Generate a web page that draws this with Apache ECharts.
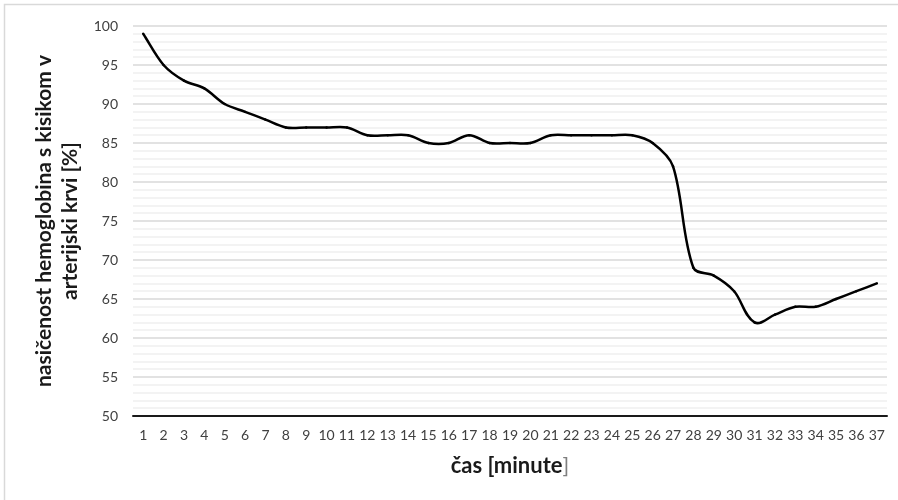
<!DOCTYPE html>
<html>
<head>
<meta charset="utf-8">
<script src="https://cdn.jsdelivr.net/npm/echarts@6/dist/echarts.min.js"></script>
<style>
  html, body { margin: 0; padding: 0; background: #fff; }
  #chart { width: 898px; height: 500px; }
</style>
</head>
<body>
<div id="chart"></div>
<script>
// Minutes of measurement
const minutes = ['1','2','3','4','5','6','7','8','9','10','11','12','13','14','15','16','17','18','19',
  '20','21','22','23','24','25','26','27','28','29','30','31','32','33','34','35','36','37'];

// Arterial oxygen saturation of haemoglobin, %
const saturation = [99, 95, 93, 92, 90, 89, 88, 87, 87, 87, 87, 86, 86, 86, 85, 85, 86, 85, 85,
  85, 86, 86, 86, 86, 86, 85, 82, 69, 68, 66, 62, 63, 64, 64, 65, 66, 67];

const yTitle = 'nasičenost hemoglobina s kisikom v\narterijski krvi [%]';
const xTitleMain = 'čas [minute';
const xTitleEnd = ']';

const FONT = 'Lato, "Open Sans", sans-serif';

const chart = echarts.init(document.getElementById('chart'), null, { renderer: 'canvas' });

// Handle of a smooth curve at point k: tangent along the neighbour chord,
// arm length proportional to the adjacent segment length.
const ARM = 0.32;
function handle(pPrev, p, pNext, seg, sign) {
  const dx = pNext[0] - pPrev[0], dy = pNext[1] - pPrev[1];
  const len = Math.hypot(dx, dy) || 1;
  const sl = Math.hypot(seg[0] - p[0], seg[1] - p[1]) * ARM;
  return [p[0] + sign * dx / len * sl, p[1] + sign * dy / len * sl];
}

// Each item draws the curve piece from its point to the next one as a
// cubic Bezier, positioned through the axes.
function renderSegment(params, api) {
  const i = api.value(0);
  const n = saturation.length;
  if (i >= n - 1) return null;
  const pt = k => {
    const c = Math.max(0, Math.min(n - 1, k));
    return api.coord([c, saturation[c]]);
  };
  const p0 = pt(i - 1), p1 = pt(i), p2 = pt(i + 1), p3 = pt(i + 2);
  const c1 = handle(p0, p1, p2, p2, 1);
  const c2 = handle(p1, p2, p3, p1, -1);
  return {
    type: 'bezierCurve',
    shape: {
      x1: p1[0], y1: p1[1], x2: p2[0], y2: p2[1],
      cpx1: c1[0], cpy1: c1[1], cpx2: c2[0], cpy2: c2[1]
    },
    style: { fill: null, stroke: '#000000', lineWidth: 2.5, lineCap: 'round' },
    silent: true
  };
}

chart.setOption({
  animation: false,
  backgroundColor: '#ffffff',
  graphic: [{
    type: 'rect',
    shape: { x: 4.5, y: 4.5, width: 1000, height: 1000 },
    style: { fill: 'none', stroke: '#d9d9d9', lineWidth: 1.5 },
    silent: true
  }],
  grid: { left: 133, right: 11, top: 26, bottom: 84, containLabel: false },
  xAxis: {
    type: 'category',
    data: minutes,
    boundaryGap: true,
    axisLine: { show: true, lineStyle: { color: '#1a1a1a', width: 2 } },
    axisTick: { show: false },
    axisLabel: { color: '#404040', fontFamily: FONT, fontSize: 14, margin: 12, interval: 0 },
    splitLine: { show: false },
    name: '{b|' + xTitleMain + '}{n|' + xTitleEnd + '}',
    nameLocation: 'middle',
    nameGap: 39,
    nameTextStyle: {
      rich: {
        b: { fontFamily: FONT, fontWeight: 'bold', fontSize: 22, color: '#1a1a1a' },
        n: { fontFamily: FONT, fontWeight: 'normal', fontSize: 22, color: '#7f7f7f' }
      }
    }
  },
  yAxis: {
    type: 'value',
    min: 50,
    max: 100,
    interval: 5,
    axisLine: { show: false },
    axisTick: { show: false },
    axisLabel: { color: '#404040', fontFamily: FONT, fontSize: 14, margin: 15 },
    splitLine: { show: true, lineStyle: { color: '#d9d9d9', width: 1.5 } },
    minorTick: { show: false, splitNumber: 5 },
    minorSplitLine: { show: true, lineStyle: { color: '#f0f0f0', width: 1.5 } },
    name: yTitle,
    nameLocation: 'middle',
    nameGap: 47,
    nameTextStyle: {
      fontFamily: FONT, fontWeight: 'bold', fontSize: 21, color: '#1a1a1a',
      lineHeight: 26, align: 'center'
    }
  },
  series: [{
    type: 'custom',
    renderItem: renderSegment,
    data: saturation.map((v, i) => [i, v]),
    encode: { x: 0, y: 1 },
    clip: true
  }]
});
</script>
</body>
</html>
